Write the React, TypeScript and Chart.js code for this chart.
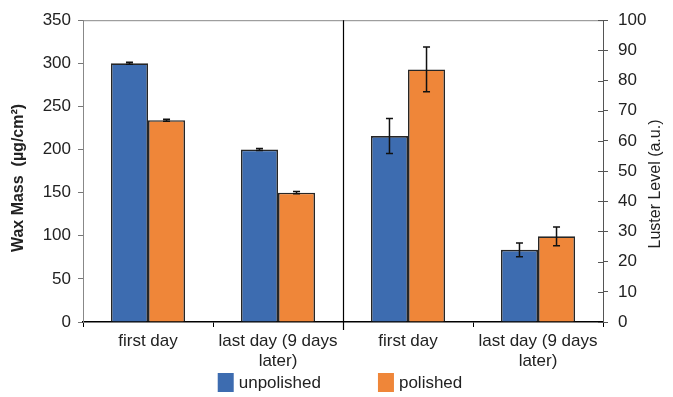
import React, { useEffect, useRef } from "react";
import { Chart, registerables } from "chart.js";

Chart.register(...registerables);

const categories = [["first day"], ["last day (9 days", "later)"], ["first day"], ["last day (9 days", "later)"]];
const seriesNames = ["unpolished", "polished"];
const waxUnpolished = [300, 200, null, null];
const waxPolished = [234, 150, null, null];
const waxUnpolishedErr = [1.2, 1.2, 0, 0];
const waxPolishedErr = [1.2, 1.2, 0, 0];
const lusterUnpolished = [null, null, 61.6, 23.9];
const lusterPolished = [null, null, 83.7, 28.4];
const lusterUnpolishedErr = [0, 0, 5.8, 2.3];
const lusterPolishedErr = [0, 0, 7.4, 3.1];
const waxAxis = { min: 0, max: 350, step: 50, title: "Wax Mass  (\u00b5g/cm\u00b2)" };
const lusterAxis = { min: 0, max: 100, step: 10, title: "Luster Level (a.u.)" };

const BLUE = "#3d6cb0";
const ORANGE = "#ef8639";
const FONT = "'Liberation Sans', Arial, sans-serif";
const TEXT = "#222";

const extrasPlugin = {
  id: "extras",
  afterDatasetsDraw(chart: any) {
    const ctx = chart.ctx;
    chart.data.datasets.forEach((ds: any, i: number) => {
      const meta = chart.getDatasetMeta(i);
      const scale = chart.scales[ds.yAxisID];
      meta.data.forEach((el: any, j: number) => {
        const v = ds.data[j];
        const e = ds.errors ? ds.errors[j] : 0;
        if (v == null || !e) return;
        const yt = scale.getPixelForValue(v + e);
        const yb = scale.getPixelForValue(v - e);
        ctx.save();
        ctx.strokeStyle = "#111";
        ctx.lineWidth = 1.5;
        ctx.beginPath();
        ctx.moveTo(el.x, yt);
        ctx.lineTo(el.x, yb);
        ctx.moveTo(el.x - 3.5, yt);
        ctx.lineTo(el.x + 3.5, yt);
        ctx.moveTo(el.x - 3.5, yb);
        ctx.lineTo(el.x + 3.5, yb);
        ctx.stroke();
        ctx.restore();
      });
    });
  },
  afterDraw(chart: any) {
    const ctx = chart.ctx;
    const area = chart.chartArea;
    const xs = chart.scales.x;
    const y1 = chart.scales.y1;
    ctx.save();
    ctx.strokeStyle = "#888";
    ctx.lineWidth = 1;
    ctx.beginPath();
    ctx.moveTo(area.left, area.top + 0.5);
    ctx.lineTo(area.right, area.top + 0.5);
    ctx.stroke();
    ctx.strokeStyle = "#555";
    ctx.beginPath();
    y1.ticks.forEach((t: any) => {
      const y = Math.round(y1.getPixelForValue(t.value)) + 0.5;
      ctx.moveTo(area.right - 5, y);
      ctx.lineTo(area.right, y);
    });
    ctx.stroke();
    const dx = Math.round((xs.getPixelForValue(1) + xs.getPixelForValue(2)) / 2) + 0.5;
    ctx.strokeStyle = "#000";
    ctx.lineWidth = 1.2;
    ctx.beginPath();
    ctx.moveTo(dx, area.top);
    ctx.lineTo(dx, area.bottom + 8);
    ctx.stroke();
    ctx.restore();

    ctx.save();
    ctx.fillStyle = TEXT;
    ctx.textAlign = "center";
    ctx.textBaseline = "middle";
    ctx.font = `bold 16px ${FONT}`;
    ctx.translate(19, 178);
    ctx.rotate(-Math.PI / 2);
    ctx.fillText(waxAxis.title, 0, 0);
    ctx.restore();
    ctx.save();
    ctx.fillStyle = TEXT;
    ctx.textAlign = "center";
    ctx.textBaseline = "middle";
    ctx.font = `16px ${FONT}`;
    ctx.translate(656, 184);
    ctx.rotate(-Math.PI / 2);
    ctx.fillText(lusterAxis.title, 0, 0);
    ctx.restore();

    ctx.save();
    ctx.font = `17px ${FONT}`;
    ctx.textBaseline = "middle";
    ctx.textAlign = "left";
    const colors = [BLUE, ORANGE];
    const boxW = 16, boxH = 19, gapText = 5, gapItems = 57;
    const widths = seriesNames.map((n) => boxW + gapText + ctx.measureText(n).width);
    const total = widths[0] + gapItems + widths[1];
    let x = (area.left + area.right) / 2 - total / 2 - 3;
    const yc = 382.5;
    seriesNames.forEach((n, i) => {
      ctx.fillStyle = colors[i];
      ctx.fillRect(x, yc - boxH / 2, boxW, boxH);
      ctx.fillStyle = TEXT;
      ctx.fillText(n, x + boxW + gapText, yc + 1);
      x += widths[i] + gapItems;
    });
    ctx.restore();
  },
};

export default function App() {
  const ref = useRef<HTMLCanvasElement | null>(null);
  useEffect(() => {
    document.body.style.margin = "0";
    const canvas = ref.current!;
    const barBase = {
      borderColor: "#262626",
      borderWidth: 1.6,
      categoryPercentage: 0.57,
      barPercentage: 1.0,
    };
    const chart = new Chart(canvas, {
      type: "bar",
      data: {
        labels: categories as any,
        datasets: [
          { ...barBase, label: seriesNames[0], data: waxUnpolished, errors: waxUnpolishedErr, backgroundColor: BLUE, yAxisID: "y", stack: "u" } as any,
          { ...barBase, label: seriesNames[1], data: waxPolished, errors: waxPolishedErr, backgroundColor: ORANGE, yAxisID: "y", stack: "p" } as any,
          { ...barBase, label: seriesNames[0], data: lusterUnpolished, errors: lusterUnpolishedErr, backgroundColor: BLUE, yAxisID: "y1", stack: "u" } as any,
          { ...barBase, label: seriesNames[1], data: lusterPolished, errors: lusterPolishedErr, backgroundColor: ORANGE, yAxisID: "y1", stack: "p" } as any,
        ],
      },
      options: {
        responsive: false,
        devicePixelRatio: 1,
        animation: false,
        layout: { padding: { top: 17, left: 0, right: 0, bottom: 0 } },
        plugins: { legend: { display: false }, tooltip: { enabled: false } },
        scales: {
          x: {
            grid: { display: true, drawOnChartArea: false, drawTicks: true, tickLength: 5, color: "#000", offset: true },
            border: { color: "#000", width: 1.5 },
            ticks: { color: TEXT, font: { family: FONT, size: 17, lineHeight: 1.15 }, padding: 5, maxRotation: 0, autoSkip: false },
            afterFit: (s: any) => { s.height = 75; },
          },
          y: {
            position: "left",
            min: waxAxis.min,
            max: waxAxis.max,
            stacked: false,
            grid: { display: true, drawOnChartArea: false, drawTicks: true, tickLength: 5, color: "#777" },
            border: { color: "#888", width: 1 },
            ticks: { stepSize: waxAxis.step, color: TEXT, font: { family: FONT, size: 17 }, padding: 7 },
            afterFit: (s: any) => { s.width = 83; },
          },
          y1: {
            position: "right",
            min: lusterAxis.min,
            max: lusterAxis.max,
            stacked: false,
            grid: { display: true, drawOnChartArea: false, drawTicks: true, tickLength: 5, color: "#555" },
            border: { color: "#555", width: 1 },
            ticks: { stepSize: lusterAxis.step, color: TEXT, font: { family: FONT, size: 17 }, padding: 10 },
            afterFit: (s: any) => { s.width = 70; },
          },
        },
      } as any,
      plugins: [extrasPlugin],
    });
    return () => chart.destroy();
  }, []);
  return <canvas ref={ref} width={673} height={397} style={{ display: "block" }} />;
}
